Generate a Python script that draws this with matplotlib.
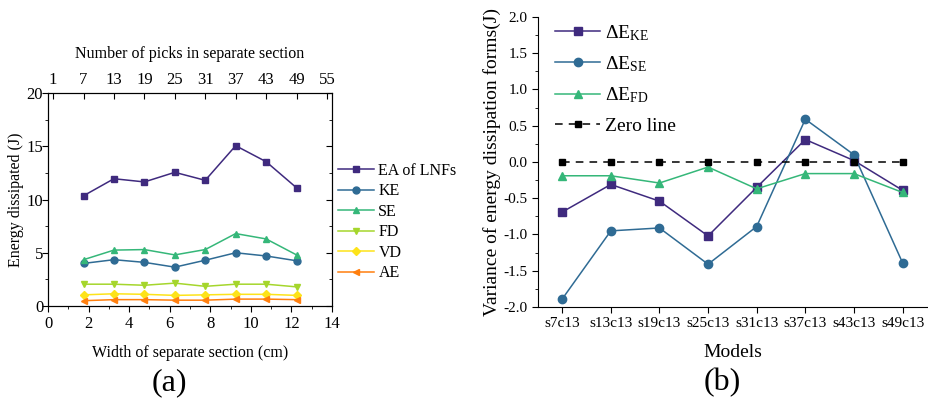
import numpy as np
import matplotlib.pyplot as plt
import matplotlib.text as mtext
from matplotlib.ticker import MultipleLocator

FONT = 'Liberation Serif'
plt.rcParams['font.family'] = 'serif'
plt.rcParams['font.serif'] = [FONT, 'DejaVu Serif']

# (a) energy dissipated vs width of separate section
width = [1.75, 3.25, 4.75, 6.25, 7.75, 9.25, 10.75, 12.25]
ea = [10.35, 11.95, 11.65, 12.55, 11.8, 15.05, 13.55, 11.1]
ke = [4.0, 4.35, 4.1, 3.65, 4.3, 5.0, 4.7, 4.25]
se = [4.35, 5.25, 5.3, 4.8, 5.3, 6.8, 6.3, 4.8]
fd = [2.05, 2.05, 1.95, 2.15, 1.85, 2.05, 2.05, 1.8]
vd = [1.05, 1.15, 1.1, 1.0, 1.05, 1.1, 1.1, 1.0]
ae = [0.5, 0.6, 0.6, 0.55, 0.55, 0.65, 0.65, 0.6]
picks = [1, 7, 13, 19, 25, 31, 37, 43, 49, 55]

# (b) variance of energy dissipation forms
models = ['s7c13', 's13c13', 's19c13', 's25c13', 's31c13', 's37c13', 's43c13', 's49c13']
d_ke = [-0.69, -0.31, -0.54, -1.02, -0.35, 0.31, 0.02, -0.39]
d_se = [-1.89, -0.95, -0.91, -1.41, -0.89, 0.59, 0.10, -1.39]
d_fd = [-0.19, -0.19, -0.29, -0.07, -0.37, -0.16, -0.16, -0.42]
zero = [0, 0, 0, 0, 0, 0, 0, 0]

c_ea = '#3f2a7e'
c_ke = '#2f6b94'
c_se = '#35b779'
c_fd = '#a5d62c'
c_vd = '#fde31a'
c_ae = '#ff7f0e'

fig = plt.figure(figsize=(9.29, 3.99), dpi=100)

ms = 5
lw = 1.1

ax1 = fig.add_axes([0.0517, 0.233, 0.3057, 0.534])
ax1.plot(width, ea, marker='s', color=c_ea, lw=lw, ms=ms, label='EA of LNFs')
ax1.plot(width, ke, marker='o', color=c_ke, lw=lw, ms=ms, label='KE')
ax1.plot(width, se, marker='^', color=c_se, lw=lw, ms=ms, label='SE')
ax1.plot(width, fd, marker='v', color=c_fd, lw=lw, ms=ms, label='FD')
ax1.plot(width, vd, marker='D', color=c_vd, lw=lw, ms=ms - 1, label='VD')
ax1.plot(width, ae, marker='<', color=c_ae, lw=lw, ms=ms, label='AE')
ax1.set_xlim(0, 14)
ax1.set_ylim(0, 20)
ax1.xaxis.set_major_locator(MultipleLocator(2))
ax1.xaxis.set_minor_locator(MultipleLocator(1))
ax1.yaxis.set_major_locator(MultipleLocator(5))
ax1.yaxis.set_minor_locator(MultipleLocator(2.5))
ax1.tick_params(which='both', direction='out', labelsize=12)
ax1.tick_params(which='major', length=4)
ax1.tick_params(which='minor', length=2.5)
ax1.tick_params(axis='y', which='both', right=True, direction='in')
for t in ax1.yaxis.get_major_ticks() + ax1.yaxis.get_minor_ticks():
    t.tick1line.set_marker(0)
ax1.set_xlabel('Width of separate section (cm)', fontsize=11.5, labelpad=9)
ax1.set_ylabel('Energy dissipated (J)', fontsize=11.5, labelpad=2)
ax1.legend(loc='center left', bbox_to_anchor=(1.0, 0.394), frameon=False, fontsize=11.5,
           handlelength=2.25, handletextpad=0.25, labelspacing=0.28, borderaxespad=0.0)

top = ax1.twiny()
top.set_xlim(0, 14)
top.set_xticks([0.25 * p for p in picks])
top.set_xticklabels([str(p) for p in picks])
top.tick_params(axis='x', direction='in', length=4, labelsize=12)
top.set_xlabel('Number of picks in separate section', fontsize=11.5, labelpad=10)

fig.text(0.182, 0.005, '(a)', fontsize=23, ha='center', va='bottom')

ax2 = fig.add_axes([0.579, 0.2306, 0.4187, 0.7268])
xi = np.arange(len(models))
ax2.plot(xi, d_ke, marker='s', color=c_ea, lw=lw, ms=ms + 1, label='$\\mathregular{ΔE_{KE}}$')
ax2.plot(xi, d_se, marker='o', color=c_ke, lw=lw, ms=ms + 1, label='$\\mathregular{ΔE_{SE}}$')
ax2.plot(xi, d_fd, marker='^', color=c_se, lw=lw, ms=ms + 1, label='$\\mathregular{ΔE_{FD}}$')
ax2.plot(xi, zero, marker='s', color='black', ls=(0, (5, 4)), lw=lw, ms=ms, label='Zero line')
ax2.set_xlim(-0.5, len(models) - 0.5)
ax2.set_ylim(-2, 2)
ax2.set_xticks(xi)
ax2.set_xticklabels(models)
ax2.yaxis.set_major_locator(MultipleLocator(0.5))
ax2.yaxis.set_minor_locator(MultipleLocator(0.25))
ax2.yaxis.set_major_formatter(plt.FuncFormatter(lambda v, p: '%.1f' % v))
ax2.spines['top'].set_visible(False)
ax2.spines['right'].set_visible(False)
ax2.tick_params(which='both', direction='out', labelsize=11)
ax2.tick_params(which='major', length=4)
ax2.tick_params(which='minor', length=2.5)
ax2.set_xlabel('Models', fontsize=14, labelpad=10)
ax2.set_ylabel('Variance of energy dissipation forms(J)', fontsize=14, labelpad=2)
ax2.legend(loc='upper left', bbox_to_anchor=(0.0, 1.04), frameon=False, fontsize=14,
           handlelength=2.3, handletextpad=0.25, labelspacing=0.6)

fig.text(0.777, 0.005, '(b)', fontsize=23, ha='center', va='bottom')

for t in fig.findobj(mtext.Text):
    t.set_fontfamily(FONT)

fig.savefig('out.png', dpi=100)
